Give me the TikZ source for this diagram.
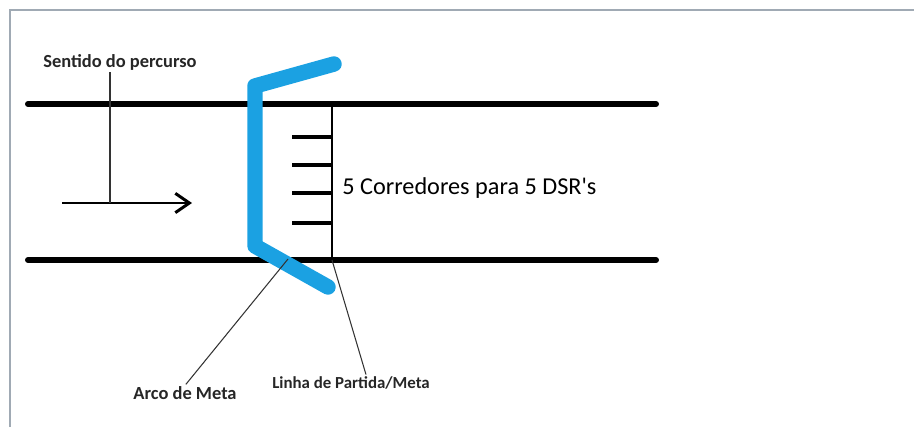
\documentclass[tikz,border=0pt]{standalone}
\usepackage{fontspec}
\setmainfont{Carlito}
\usetikzlibrary{arrows.meta, calc}
\tikzset{>=latex}
\definecolor{arcblue}{RGB}{27,161,226}
\definecolor{framegray}{RGB}{160,170,180}
\def\rescale{0.02}
\def\trackleft{28}
\def\trackright{656}
\def\tracktop{104}
\def\trackbottom{260}
\def\finishx{332}
\def\ticklength{40}
\tikzset{
  track/.style={line width=3.4pt, line cap=round},
  leader/.style={line width=0.6pt, black!80},
  label/.style={font=\bfseries\fontsize{10.5}{12}\selectfont, text=black!85, inner sep=1pt}
}

\begin{document}
\begin{tikzpicture}[x=\rescale cm, y=-\rescale cm]
\useasboundingbox (0,0) rectangle (914,427);

% Frame
\draw[framegray, line width=1.1pt] (10,427) -- (10,10) -- (914,10);

% Track
\coordinate[](track_top_left) at (\trackleft, \tracktop) {};
\coordinate[](track_top_right) at (\trackright, \tracktop) {};
\coordinate[](track_bottom_left) at (\trackleft, \trackbottom) {};
\coordinate[](track_bottom_right) at (\trackright, \trackbottom) {};

\draw[track] (track_top_left) -- (track_top_right);
\draw[track] (track_bottom_left) -- (track_bottom_right);

% Finish line and lanes
\coordinate[](finish_top) at (\finishx, \tracktop) {};
\coordinate[](finish_bottom) at (\finishx, \trackbottom) {};
\draw[line width=1.7pt] (finish_top) -- (finish_bottom);

\foreach \y in {137, 165, 193, 223}{
    \draw[line width=2pt] ([xshift=-\ticklength*\rescale cm]\finishx, \y) -- (\finishx, \y);
}

\node[anchor=west, font=\fontsize{13.8}{16}\selectfont, inner sep=0pt] (corredores) at (342, 188) {5 Corredores para 5 DSR\textquotesingle s};

% Finish arch
\coordinate[](arc_top) at (334, 64) {};
\coordinate[](arc_corner_top) at (255, 86) {};
\coordinate[](arc_corner_bottom) at (255, 246) {};
\coordinate[](arc_bottom) at (328, 287) {};
\draw[arcblue, line width=8.8pt, line join=round, line cap=round]
    (arc_top) -- (arc_corner_top) -- (arc_corner_bottom) -- (arc_bottom);

% Direction
\coordinate[](arrow_start) at (62, 203) {};
\coordinate[](arrow_end) at (192, 203) {};
\draw[line width=1.7pt, -{Straight Barb[length=8pt, width=11pt]}] (arrow_start) -- (arrow_end);

\node[label] (sentido) at (120, 62) {Sentido do percurso};
\coordinate[](sentido_foot) at (110, 203) {};
\draw[leader] (sentido.south -| sentido_foot) -- (sentido_foot);

% Labels below
\node[label] (arco) at (185, 393) {Arco de Meta};
\coordinate[](arco_tip) at (288, 259) {};
\draw[leader] ([xshift=0.5pt]arco.north) -- (arco_tip);

\node[label, font=\bfseries\fontsize{9.6}{12}\selectfont] (linha) at (351, 383) {Linha de Partida/Meta};
\draw[leader] ([xshift=15*\rescale cm]linha.north) -- (finish_bottom);

\end{tikzpicture}
\end{document}
